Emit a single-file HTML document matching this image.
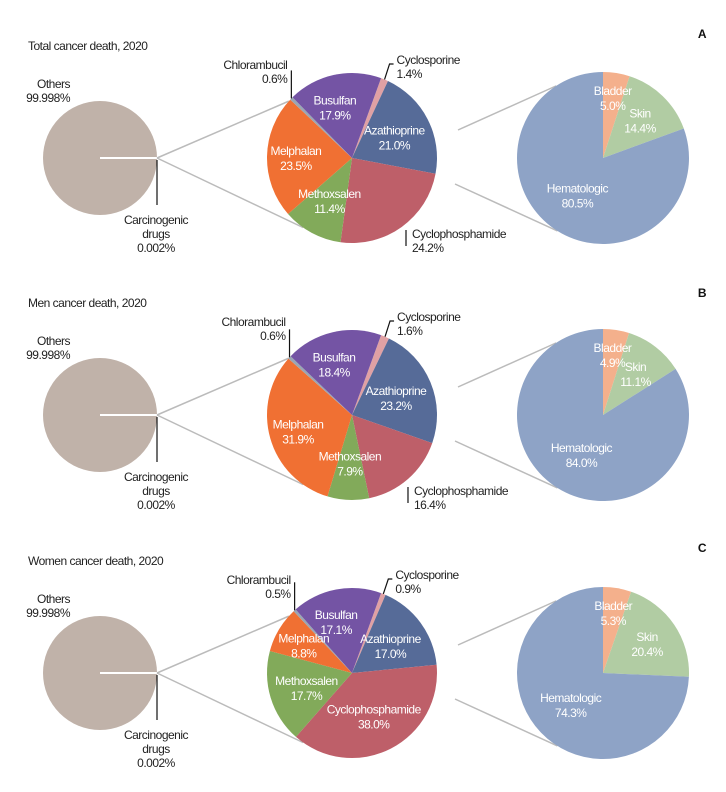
<!DOCTYPE html>
<html><head><meta charset="utf-8"><style>
html,body{margin:0;padding:0;background:#fff;}
svg{display:block;font-family:"Liberation Sans",sans-serif;}
text{font-size:12px;letter-spacing:-0.5px;}
</style></head><body>
<svg id="chart" width="726" height="792" viewBox="0 0 726 792" xmlns="http://www.w3.org/2000/svg"></svg>
<script>
const panelTitles = ["Total cancer death, 2020", "Men cancer death, 2020", "Women cancer death, 2020"];
const panelLetters = ["A", "B", "C"];
const drugNames = ["Cyclosporine", "Azathioprine", "Cyclophosphamide", "Methoxsalen", "Melphalan", "Chlorambucil", "Busulfan"];
const drugTotal = [1.4, 21.0, 24.2, 11.4, 23.5, 0.6, 17.9];
const drugMen = [1.6, 23.2, 16.4, 7.9, 31.9, 0.6, 18.4];
const drugWomen = [0.9, 17.0, 38.0, 17.7, 8.8, 0.5, 17.1];
const siteNames = ["Bladder", "Skin", "Hematologic"];
const siteTotal = [5.0, 14.4, 80.5];
const siteMen = [4.9, 11.1, 84.0];
const siteWomen = [5.3, 20.4, 74.3];
const overallNames = ["Carcinogenic drugs", "Others"];
const overallValues = [0.002, 99.998];

const drugColors = ["#e0a1a4", "#566b98", "#be5f69", "#82aa5a", "#f07033", "#9aa6b4", "#7454a4"];
const siteColors = ["#f4b08c", "#b1cca3", "#8ea3c6"];
const NS = "http://www.w3.org/2000/svg";
const svg = document.getElementById("chart");
function mk(tag, attrs, parent) {
  const e = document.createElementNS(NS, tag);
  for (const k in attrs) e.setAttribute(k, attrs[k]);
  (parent || svg).appendChild(e);
  return e;
}
function pt(cx, cy, r, deg) { const a = (deg - 90) * Math.PI / 180; return [cx + r * Math.cos(a), cy + r * Math.sin(a)]; }
function arc(cx, cy, r, a0, a1) {
  const p0 = pt(cx, cy, r, a0), p1 = pt(cx, cy, r, a1);
  const large = (a1 - a0) > 180 ? 1 : 0;
  return `M${cx},${cy}L${p0[0]},${p0[1]}A${r},${r} 0 ${large} 1 ${p1[0]},${p1[1]}Z`;
}
function txt(x, y, s, anchor, fill, parent, name) {
  const t = mk("text", {x: x, y: y, "text-anchor": anchor || "middle", fill: fill || "#222"}, parent);
  t.textContent = s;
  
  
  return t;
}
function pie(g, cx, cy, r, vals, names, colors, start, name) {
  const total = vals.reduce((a, b) => a + b, 0);
  let a = start; const mids = [];
  vals.forEach((v, i) => {
    const sweep = v / total * 360;
    const p = mk("path", {d: arc(cx, cy, r, a, a + sweep), fill: colors[i]}, g);
    
    
    mids.push(a + sweep / 2);
    a += sweep;
  });
  return mids;
}
const drugSets = [drugTotal, drugMen, drugWomen];
const siteSets = [siteTotal, siteMen, siteWomen];
const centersY = [158, 415, 673];
const titleY = [50, 307, 565];
const letterY = [38, 297, 552];

panelTitles.forEach((title, p) => {
  const g = mk("g", {});
  
  
  const cy = centersY[p];
  txt(28, titleY[p], title, "start", "#222", g, 'panel-title').setAttribute("font-size", "13");
  const L = txt(706, letterY[p], panelLetters[p], "end", "#111", g, 'panel-letter');
  L.setAttribute("font-weight", "bold"); L.setAttribute("font-size", "15");

  const lc = mk("circle", {cx: 100, cy: cy, r: 57, fill: "#c0b2a9"}, g);
  
  
  mk("line", {x1: 100, y1: cy, x2: 157, y2: cy, stroke: "#fff", "stroke-width": 2}, g);
  mk("line", {x1: 157, y1: cy + 2, x2: 157, y2: cy + 47, stroke: "#111", "stroke-width": 1.2}, g);
  txt(70, cy - 70, "Others", "end", "#222", g, 'others-label');
  txt(70, cy - 56, overallValues[1].toFixed(3) + "%", "end", "#222", g, 'others-value');
  txt(156, cy + 66, "Carcinogenic", "middle", "#222", g, 'carcinogenic-label');
  txt(156, cy + 80, "drugs", "middle", "#222", g, 'carcinogenic-label');
  txt(156, cy + 94, overallValues[0].toFixed(3) + "%", "middle", "#222", g, 'carcinogenic-value');

  const mcx = 352, r = 85;
  const up = pt(mcx, cy, r, -48), dn = pt(mcx, cy, r, -145);
  mk("line", {x1: 157, y1: cy, x2: up[0], y2: up[1], stroke: "#bbb", "stroke-width": 1.5}, g);
  mk("line", {x1: 157, y1: cy, x2: dn[0], y2: dn[1], stroke: "#bbb", "stroke-width": 1.5}, g);

  const vals = drugSets[p];
  const mids = pie(g, mcx, cy, r, vals, drugNames, drugColors, 20, 'drug');
  vals.forEach((v, i) => {
    const name = drugNames[i], lab = v.toFixed(1) + "%";
    if (i === 0) {
      const e = pt(mcx, cy, r, mids[i]);
      mk("polyline", {points: `${e[0]},${e[1]} ${e[0] + 5},${cy - 94} ${e[0] + 9},${cy - 94}`, fill: "none", stroke: "#111", "stroke-width": 1.2}, g);
      txt(e[0] + 12, cy - 94, name, "start", "#222", g, 'cyclosporine-label');
      txt(e[0] + 12, cy - 80, lab, "start", "#222", g, 'cyclosporine-value');
    } else if (i === 5) {
      const e = pt(mcx, cy, r, mids[i]);
      mk("line", {x1: e[0], y1: e[1], x2: e[0], y2: e[1] - 28, stroke: "#111", "stroke-width": 1.2}, g);
      txt(e[0] - 4, cy - 89, name, "end", "#222", g, 'chlorambucil-label');
      txt(e[0] - 4, cy - 75, lab, "end", "#222", g, 'chlorambucil-value');
    } else if (i === 2 && v < 30) {
      const e = pt(mcx, cy, r, mids[i]);
      const x = Math.max(e[0], 406);
      mk("line", {x1: x, y1: cy + 72, x2: x, y2: cy + 88, stroke: "#111", "stroke-width": 1.2}, g);
      txt(x + 6, cy + 80, name, "start", "#222", g, 'cyclophosphamide-label');
      txt(x + 6, cy + 94, lab, "start", "#222", g, 'cyclophosphamide-value');
    } else {
      const rf = i === 4 ? 0.66 : (i === 6 ? 0.62 : 0.56);
      const c = pt(mcx, cy, r * rf, mids[i]);
      const dx = i === 6 ? -6 : 0, dy = 0;
      txt(c[0] + dx, c[1] - 2 + dy, name, "middle", "#fff", g, name.toLowerCase() + '-label');
      txt(c[0] + dx, c[1] + 13 + dy, lab, "middle", "#fff", g, name.toLowerCase() + '-value');
    }
  });

  const rcx = 603, rr = 86;
  const ru = pt(rcx, cy, rr, -33), rd = pt(rcx, cy, rr, -148);
  mk("line", {x1: 458, y1: cy - 28, x2: ru[0], y2: ru[1], stroke: "#bbb", "stroke-width": 1.5}, g);
  mk("line", {x1: 455, y1: cy + 26, x2: rd[0], y2: rd[1], stroke: "#bbb", "stroke-width": 1.5}, g);

  const sv = siteSets[p];
  const smids = pie(g, rcx, cy, rr, sv, siteNames, siteColors, 0, 'site');
  sv.forEach((v, i) => {
    const rad = i === 2 ? rr * 0.52 : rr * (i === 0 ? 0.72 : 0.62);
    const c = pt(rcx, cy, rad, smids[i]);
    txt(c[0], c[1] - 2, siteNames[i], "middle", "#fff", g, siteNames[i].toLowerCase() + '-label');
    txt(c[0], c[1] + 13, v.toFixed(1) + "%", "middle", "#fff", g, siteNames[i].toLowerCase() + '-value');
  });
});
</script>
</body></html>
